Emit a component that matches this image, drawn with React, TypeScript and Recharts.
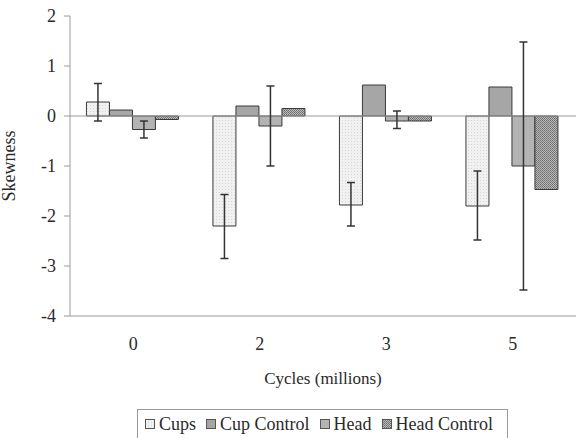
import React from 'react'
import {
  BarChart,
  Bar,
  XAxis,
  YAxis,
  ErrorBar,
  ReferenceLine,
  Legend,
} from 'recharts'

// ─── Data ─────────────────────────────────────────────────────────────────────

const categories = ['0', '2', '3', '5']
const cups = [0.28, -2.2, -1.78, -1.8]
const cupControl = [0.12, 0.2, 0.62, 0.58]
const head = [-0.27, -0.2, -0.1, -1.0]
const headControl = [-0.07, 0.15, -0.1, -1.47]

// error bar ends (low / high)
const cupsErrLow = [-0.1, -2.85, -2.2, -2.48]
const cupsErrHigh = [0.65, -1.57, -1.33, -1.1]
const headErrLow = [-0.44, -1.0, -0.25, -3.48]
const headErrHigh = [-0.1, 0.6, 0.1, 1.48]

const yTicks = [-4, -3, -2, -1, 0, 1, 2]

const data = categories.map((cycle, i) => ({
  cycle,
  cups: cups[i],
  cupControl: cupControl[i],
  head: head[i],
  headControl: headControl[i],
  cupsErr: [cups[i] - cupsErrLow[i], cupsErrHigh[i] - cups[i]],
  headErr: [head[i] - headErrLow[i], headErrHigh[i] - head[i]],
}))

// ─── Styles ───────────────────────────────────────────────────────────────────

const FONT = 'Liberation Serif, Times New Roman, Times, serif'
const AXIS = '#9a9a9a'
const EDGE = '#3a3a3a'
const TEXT = '#2a2a2a'

const series = [
  { key: 'cups', name: 'Cups', fill: 'url(#patCups)' },
  { key: 'cupControl', name: 'Cup Control', fill: '#a6a6a6' },
  { key: 'head', name: 'Head', fill: '#b3b3b3' },
  { key: 'headControl', name: 'Head Control', fill: 'url(#patHeadCtl)' },
]

function LegendBox() {
  return (
    <div
      style={{
        display: 'flex',
        alignItems: 'center',
        border: `1px solid ${AXIS}`,
        borderBottom: 'none',
        background: '#fff',
        height: 29,
        boxSizing: 'border-box',
        padding: '0 0 0 7px',
        fontFamily: FONT,
        fontSize: 18,
        color: TEXT,
        whiteSpace: 'nowrap',
      }}
    >
      {series.map(s => (
        <span key={s.key} style={{ display: 'inline-flex', alignItems: 'center', marginRight: 10 }}>
          <svg width={10} height={10} style={{ marginRight: 4 }}>
            <rect x={0.5} y={0.5} width={9} height={9} fill={s.fill} stroke="#555" />
          </svg>
          {s.name}
        </span>
      ))}
    </div>
  )
}

export default function App() {
  return (
    <div style={{ position: 'absolute', left: 0, top: 0, background: '#fff' }}>
      <BarChart
        width={580}
        height={438}
        data={data}
        margin={{ top: 16, right: 4, bottom: 0, left: 0 }}
        barCategoryGap="13%"
        barGap={0}
      >
        <defs>
          <pattern id="patCups" width="3" height="3" patternUnits="userSpaceOnUse">
            <rect width="3" height="3" fill="#f1f1f1" />
            <rect width="1" height="1" fill="#d6d6d6" />
          </pattern>
          <pattern id="patHeadCtl" width="2" height="2" patternUnits="userSpaceOnUse">
            <rect width="2" height="2" fill="#b8b8b8" />
            <rect width="1" height="1" fill="#6e6e6e" />
            <rect x="1" y="1" width="1" height="1" fill="#7e7e7e" />
          </pattern>
        </defs>
        <XAxis
          dataKey="cycle"
          height={122}
          axisLine={{ stroke: AXIS }}
          tickLine={false}
          tickSize={0}
          tickMargin={21}
          tick={{ fontSize: 18, fill: TEXT, fontFamily: FONT }}
          label={{
            value: 'Cycles (millions)',
            position: 'insideTop',
            offset: 56,
            style: { fontSize: 17, fill: TEXT, fontFamily: FONT },
          }}
        />
        <XAxis xAxisId="top" orientation="top" dataKey="cycle" height={0} tick={false} tickLine={false} axisLine={{ stroke: AXIS }} />
        <YAxis
          width={70}
          domain={[-4, 2]}
          ticks={yTicks}
          allowDataOverflow
          axisLine={{ stroke: AXIS }}
          tickLine={{ stroke: AXIS }}
          tickSize={6}
          tickMargin={8}
          tick={{ fontSize: 18, fill: TEXT, fontFamily: FONT }}
          label={{
            value: 'Skewness',
            angle: -90,
            position: 'insideLeft',
            offset: 9,
            style: { fontSize: 18, fill: TEXT, fontFamily: FONT, textAnchor: 'middle' },
          }}
        />
        <YAxis yAxisId="right" orientation="right" width={0} domain={[-4, 2]} tick={false} tickLine={false} axisLine={{ stroke: AXIS }} />
        <ReferenceLine y={0} stroke={AXIS} strokeWidth={1} />
        <Legend
          layout="horizontal"
          align="center"
          verticalAlign="middle"
          wrapperStyle={{ left: 137, top: 409, width: 371 }}
          content={() => <LegendBox />}
        />
        <Bar dataKey="cups" name="Cups" fill="url(#patCups)" stroke={EDGE} strokeWidth={1} isAnimationActive={false}>
          <ErrorBar dataKey="cupsErr" width={4} stroke="#333" strokeWidth={1.5} direction="y" />
        </Bar>
        <Bar dataKey="cupControl" name="Cup Control" fill="#a6a6a6" stroke={EDGE} strokeWidth={1} isAnimationActive={false} />
        <Bar dataKey="head" name="Head" fill="#b3b3b3" stroke={EDGE} strokeWidth={1} isAnimationActive={false}>
          <ErrorBar dataKey="headErr" width={4} stroke="#333" strokeWidth={1.5} direction="y" />
        </Bar>
        <Bar dataKey="headControl" name="Head Control" fill="url(#patHeadCtl)" stroke={EDGE} strokeWidth={1} isAnimationActive={false} />
      </BarChart>
    </div>
  )
}
